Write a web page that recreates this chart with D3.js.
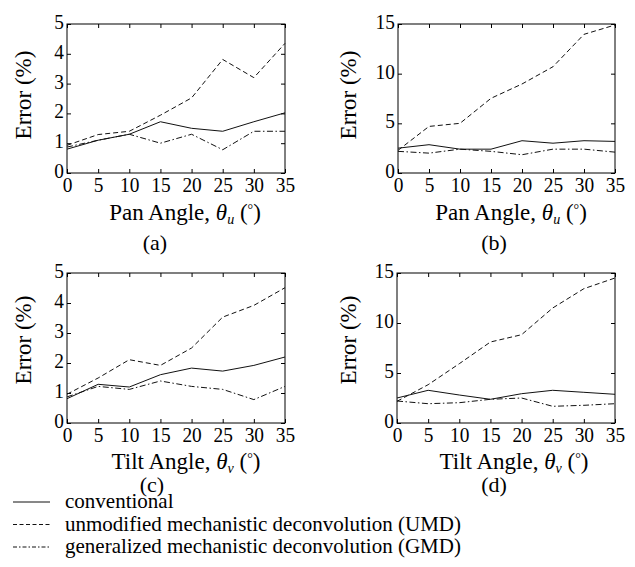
<!DOCTYPE html>
<html>
<head>
<meta charset="utf-8">
<script src="https://cdn.jsdelivr.net/npm/d3@7"></script>
<style>
  body { margin: 0; background: #fff; }
  svg { display: block; }
  svg text { font-family: "Liberation Serif", "Times New Roman", serif; }
</style>
</head>
<body>
<svg id="chart" width="635" height="567"></svg>
<script>
const angles = [0, 5, 10, 15, 20, 25, 30, 35];

// pan angle, small y range
const panA_conv = [0.8, 1.1, 1.3, 1.72, 1.5, 1.4, 1.72, 2.02];
const panA_umd  = [0.93, 1.29, 1.4, 1.94, 2.52, 3.81, 3.2, 4.35];
const panA_gmd  = [0.87, 1.1, 1.3, 1.0, 1.3, 0.78, 1.4, 1.4];

// pan angle, large y range
const panB_conv = [2.5, 2.85, 2.4, 2.4, 3.25, 3.0, 3.25, 3.18];
const panB_umd  = [2.28, 4.69, 5.0, 7.52, 8.96, 10.7, 13.96, 14.9];
const panB_gmd  = [2.18, 2.0, 2.4, 2.18, 1.84, 2.4, 2.4, 2.1];

// tilt angle, small y range
const tiltC_conv = [0.81, 1.29, 1.2, 1.61, 1.83, 1.73, 1.92, 2.2];
const tiltC_umd  = [0.96, 1.5, 2.11, 1.92, 2.5, 3.53, 3.92, 4.51];
const tiltC_gmd  = [0.87, 1.22, 1.12, 1.4, 1.22, 1.12, 0.78, 1.22];

// tilt angle, large y range
const tiltD_conv = [2.5, 3.27, 2.8, 2.37, 2.93, 3.27, 3.07, 2.87];
const tiltD_umd  = [2.17, 3.83, 5.93, 8.1, 8.83, 11.5, 13.43, 14.5];
const tiltD_gmd  = [2.2, 1.93, 2.03, 2.37, 2.5, 1.67, 1.77, 1.93];

const yTicksSmall = [0, 1, 2, 3, 4, 5];
const yTicksLarge = [0, 5, 10, 15];
const legendLabels = [
    "conventional",
    "unmodified mechanistic deconvolution (UMD)",
    "generalized mechanistic deconvolution (GMD)"
];
const dashes = [null, "5,3", "6,2.5,1.5,2.5"];

const serif = "Liberation Serif, Times New Roman, serif";
const svg = d3.select("#chart");

const panels = [
    { box: [67, 285, 24, 173], ymax: 5, yt: yTicksSmall, series: [panA_conv, panA_umd, panA_gmd],
      name: "Pan Angle, ", sub: "u", cap: "(a)", xlab: [185, 220], capPos: [155, 250], ylab: [31, 95] },
    { box: [398, 615, 24, 173], ymax: 15, yt: yTicksLarge, series: [panB_conv, panB_umd, panB_gmd],
      name: "Pan Angle, ", sub: "u", cap: "(b)", xlab: [511, 220], capPos: [494, 250], ylab: [356, 95] },
    { box: [67, 285, 273, 423], ymax: 5, yt: yTicksSmall, series: [tiltC_conv, tiltC_umd, tiltC_gmd],
      name: "Tilt Angle, ", sub: "v", cap: "(c)", xlab: [186, 469], capPos: [152, 492], ylab: [31, 340] },
    { box: [397, 615, 273, 423], ymax: 15, yt: yTicksLarge, series: [tiltD_conv, tiltD_umd, tiltD_gmd],
      name: "Tilt Angle, ", sub: "v", cap: "(d)", xlab: [514, 469], capPos: [494, 492], ylab: [356, 340] }
];

panels.forEach(p => {
    const [l, r, t, b] = p.box;
    const x = d3.scaleLinear().domain([0, 35]).range([l, r]);
    const y = d3.scaleLinear().domain([0, p.ymax]).range([b, t]);
    const g = svg.append("g");

    // axes, ticks pointing inward on all four sides
    const bottom = g.append("g").attr("transform", `translate(0,${b})`)
        .call(d3.axisBottom(x).tickValues(angles).tickFormat(d3.format("d")).tickSize(-4).tickPadding(3.5));
    const left = g.append("g").attr("transform", `translate(${l},0)`)
        .call(d3.axisLeft(y).tickValues(p.yt).tickFormat(d3.format("d")).tickSize(-4).tickPadding(3.5));
    g.append("g").attr("transform", `translate(0,${t})`)
        .call(d3.axisTop(x).tickValues(angles).tickSize(-4).tickFormat(""));
    g.append("g").attr("transform", `translate(${r},0)`)
        .call(d3.axisRight(y).tickValues(p.yt).tickSize(-4).tickFormat(""));

    g.selectAll("g").attr("font-family", null).attr("font-size", null);
    g.selectAll(".domain").remove();
    g.selectAll(".tick line").attr("stroke", "#000");
    bottom.selectAll("text").attr("font-size", 22).attr("transform", "scale(0.88,1)");
    left.selectAll("text").attr("font-size", 22).attr("dy", "0.2em").attr("transform", "scale(0.88,1)");
    g.selectAll(".tick text").attr("fill", "#000").attr("font-family", serif);

    g.append("rect")
        .attr("x", l).attr("y", t).attr("width", r - l).attr("height", b - t)
        .attr("fill", "none").attr("stroke", "#000").attr("stroke-width", 1);

    const line = d3.line().x((d, i) => x(angles[i])).y(d => y(d));
    p.series.forEach((s, i) => {
        g.append("path")
            .datum(s)
            .attr("d", line)
            .attr("fill", "none")
            .attr("stroke", "#111")
            .attr("stroke-width", 1)
            .attr("stroke-dasharray", dashes[i]);
    });

    // y label
    g.append("text")
        .attr("transform", `translate(${p.ylab[0]},${p.ylab[1]}) rotate(-90)`)
        .attr("text-anchor", "middle")
        .attr("font-family", serif)
        .attr("font-size", 23)
        .text("Error (%)");

    // x label
    const xl = g.append("text")
        .attr("x", p.xlab[0]).attr("y", p.xlab[1])
        .attr("text-anchor", "middle")
        .attr("font-family", serif)
        .attr("font-size", 23);
    xl.append("tspan").text(p.name);
    xl.append("tspan").attr("font-style", "italic").text("θ");
    xl.append("tspan").attr("font-style", "italic").attr("font-size", 14).attr("dy", 4).text(p.sub);
    xl.append("tspan").attr("dy", -4).text(" (");
    xl.append("tspan").attr("font-size", 14).attr("dy", -6).text("°");
    xl.append("tspan").attr("dy", 6).text(")");

    g.append("text")
        .attr("x", p.capPos[0]).attr("y", p.capPos[1])
        .attr("text-anchor", "middle")
        .attr("font-family", serif)
        .attr("font-size", 22)
        .text(p.cap);
});

// legend
const legY = d3.scaleOrdinal().domain(legendLabels).range([502, 524.5, 547]);
const leg = svg.append("g").selectAll("g").data(legendLabels).enter().append("g")
    .attr("transform", d => `translate(0,${legY(d)})`);
leg.append("line")
    .attr("x1", 13).attr("x2", 50).attr("y1", 0).attr("y2", 0)
    .attr("stroke", "#111").attr("stroke-width", 1)
    .attr("stroke-dasharray", (d, i) => i === 1 ? "4,2.5" : i === 2 ? "4,2,1.5,2" : null);
leg.append("text")
    .attr("x", 65).attr("y", 6)
    .attr("font-family", serif)
    .attr("font-size", 21)
    .text(d => d);
</script>
</body>
</html>
